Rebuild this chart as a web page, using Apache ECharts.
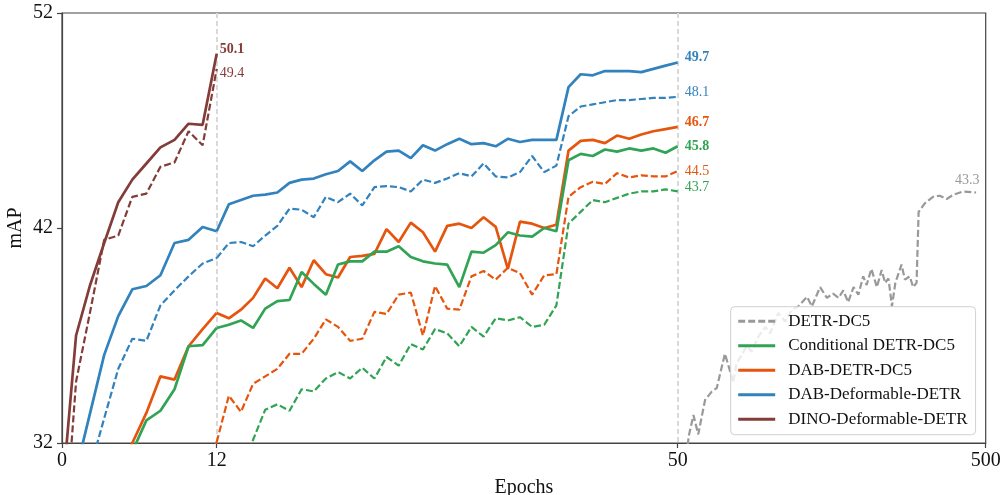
<!DOCTYPE html>
<html>
<head>
<meta charset="utf-8">
<script src="https://cdn.jsdelivr.net/npm/echarts@6/dist/echarts.min.js"></script>
<style>
  html, body { margin: 0; padding: 0; background: #fff; }
  #chart { width: 1003px; height: 495px; }
</style>
</head>
<body>
<div id="chart"></div>
<script>
  // x ticks: shown text vs. epoch value where the tick sits
  const xTickValues = [1, 12, 50, 500];
  const xTickLabels = ['0', '12', '50', '500'];

  // values per epoch 1..50 (null = not drawn)
  const dinoSolid  = [29.5, 37.0, 39.35, 41.3, 43.2, 44.25, 45.0, 45.75, 46.1, 46.85, 46.8, 50.1];
  const dinoDashed = [26.0, 34.85, 38.1, 41.45, 41.65, 43.45, 43.6, 44.85, 45.05, 46.5, 45.85, 49.4];

  const dabDefSolid = [28.0, 30.7, 33.4, 36.1, 37.9, 39.15, 39.3, 39.8, 41.3, 41.45, 42.05, 41.85,
    43.1, 43.3, 43.5, 43.55, 43.65, 44.1, 44.25, 44.3, 44.5, 44.65, 45.1, 44.65, 45.15, 45.55, 45.6, 45.25, 45.85, 45.6,
    45.9, 46.15, 45.9, 45.95, 45.8, 46.15, 46.0, 46.1, 46.1, 46.1,
    48.55, 49.15, 49.1, 49.3, 49.3, 49.3, 49.25, 49.4, 49.55, 49.7];
  const dabDefDashed = [26.0, 28.5, 30.8, 33.15, 35.45, 36.85, 36.75, 38.4, 39.1, 39.75, 40.35, 40.6,
    41.3, 41.35, 41.15, 41.65, 42.1, 42.9, 42.85, 42.5, 43.45, 43.2, 43.6, 43.05, 43.9, 43.95, 43.9, 43.7, 44.25, 44.1,
    44.3, 44.55, 44.4, 45.0, 44.4, 44.35, 44.6, 45.35, 44.6, 44.9,
    47.2, 47.65, 47.75, 47.85, 47.95, 47.95, 48.0, 48.05, 48.05, 48.1];

  const dabDetrSolid = [null, null, null, null, 30.5, 32.0, 33.4, 35.1, 34.95, 36.5, 37.3, 38.05,
    37.8, 38.2, 38.75, 39.65, 39.2, 40.15, 39.25, 40.5, 39.85, 39.7, 40.65, 40.7, 40.8, 41.95, 41.35, 42.25, 41.8, 40.9,
    42.1, 42.2, 42.0, 42.5, 42.05, 40.1, 42.3, 42.2, 42.0, 42.15,
    45.6, 46.05, 46.1, 45.95, 46.3, 46.15, 46.35, 46.5, 46.6, 46.7];
  const dabDetrDashed = [null, null, null, null, null, null, null, null, null, null, 30.6, 32.05,
    34.2, 33.45, 34.75, 35.1, 35.45, 36.15, 36.15, 36.85, 37.75, 37.4, 36.75, 36.85, 38.1, 38.0, 38.9, 39.0, 37.0, 39.3,
    38.25, 38.2, 39.75, 40.0, 39.6, 40.15, 39.9, 38.9, 39.8, 39.85,
    43.45, 43.9, 44.15, 44.05, 44.55, 44.35, 44.45, 44.4, 44.4, 44.65];

  const condSolid = [null, null, null, null, 30.0, 31.6, 33.05, 33.5, 34.5, 36.5, 36.55, 37.35,
    37.5, 37.7, 37.35, 38.25, 38.6, 38.65, 39.95, 39.4, 38.9, 40.3, 40.45, 40.45, 40.9, 40.9, 41.15, 40.65, 40.45, 40.35,
    40.3, 39.25, 40.9, 40.85, 41.2, 41.8, 41.65, 41.6, 42.0, 41.85,
    45.15, 45.45, 45.35, 45.65, 45.55, 45.7, 45.6, 45.7, 45.5, 45.8];
  const condDashed = [null, null, null, null, null, null, null, null, null, null, null, null,
    null, 30.8, 32.15, 33.55, 33.8, 33.5, 34.5, 34.4, 35.0, 35.3, 35.0, 35.5, 35.0, 36.0, 35.6, 36.6, 36.35, 37.3,
    37.1, 36.5, 37.4, 36.95, 37.8, 37.7, 37.85, 37.4, 37.5, 38.4,
    42.2, 42.75, 43.3, 43.2, 43.4, 43.6, 43.7, 43.7, 43.8, 43.7];

  // DETR-DC5, 500 epoch schedule
  const detrEpochs = [60, 66, 73, 80, 90, 100, 107, 119, 126, 131, 136, 151, 158, 168, 178, 185, 197, 207, 217, 226,
    239, 246, 258, 268, 277, 285, 292, 299, 307, 314, 321, 326, 333, 341, 348, 353, 358, 363, 368, 377,
    382, 389, 394, 399, 402, 411, 423, 433, 443, 453, 467, 486];
  const detrMap = [30.5, 32.3, 33.3, 32.4, 34.0, 34.4, 34.55, 36.15, 35.4, 34.8, 35.7, 36.5, 36.25, 36.95, 37.4, 37.1, 38.05, 37.65, 38.2, 38.35,
    38.8, 38.35, 39.25, 38.75, 38.95, 38.75, 39.1, 38.55, 39.25, 38.9, 39.75, 39.35, 40.1, 39.25, 40.05, 39.45, 39.65, 38.35, 39.45, 40.3,
    39.6, 39.75, 39.25, 39.45, 42.75, 43.15, 43.45, 43.5, 43.35, 43.55, 43.7, 43.65];

  const legendNames = ['DETR-DC5', 'Conditional DETR-DC5', 'DAB-DETR-DC5', 'DAB-Deformable-DETR', 'DINO-Deformable-DETR'];

  const COLORS = {
    detr: '#999999',
    cond: '#31a354',
    dabDetr: '#e6550d',
    dabDef: '#3182bd',
    dino: '#843c39'
  };
  const FONT = '"Liberation Serif", "DejaVu Serif", serif';
  const AXIS_COLOR = '#444';

  function pairs(vals, from, to) {
    const out = [];
    for (let e = from; e <= to; e++) {
      const v = vals[e - 1];
      if (v !== null && v !== undefined) out.push([e, v]);
    }
    return out;
  }

  function line(name, grid, data, color, dashed, label, offset, bold) {
    const s = {
      type: 'line',
      name: name,
      xAxisIndex: grid,
      yAxisIndex: grid,
      data: data,
      symbol: 'none',
      silent: true,
      z: dashed ? 2 : 3,
      itemStyle: { color: color },
      lineStyle: { color: color, width: dashed ? 2.2 : 2.7, type: dashed ? [7, 3] : 'solid' }
    };
    if (label) {
      s.endLabel = {
        show: true,
        formatter: label,
        color: color,
        fontFamily: FONT,
        fontSize: 14,
        fontWeight: bold ? 'bold' : 'normal',
        distance: 0,
        offset: offset
      };
    }
    return s;
  }

  const L = 62, T = 13, B = 443, X12 = 216.7, X50 = 677.7, R = 985.7;

  const chart = echarts.init(document.getElementById('chart'));

  const hiddenY = { type: 'value', min: 32, max: 52, show: false };
  const tickStyle = { show: true, length: 5, lineStyle: { color: AXIS_COLOR, width: 1.2 } };
  const lineStyleAxis = { show: true, lineStyle: { color: AXIS_COLOR, width: 1.2 } };
  const xLabel = {
    fontFamily: FONT, fontSize: 20, color: '#111', margin: 8,
    formatter: function (v) { return xTickLabels[xTickValues.indexOf(v)]; }
  };

  chart.setOption({
    animation: false,
    backgroundColor: '#fff',
    grid: [
      { left: L, top: T, width: X12 - L, height: B - T, outerBoundsMode: 'none' },
      { left: X12, top: T, width: X50 - X12, height: B - T, outerBoundsMode: 'none' },
      { left: X50, top: T, width: R - X50, height: B - T, outerBoundsMode: 'none' },
      { left: L, top: T, width: R - L, height: B - T, outerBoundsMode: 'none',
        show: true, borderColor: AXIS_COLOR, borderWidth: 1.2, backgroundColor: 'transparent' }
    ],
    xAxis: [
      { gridIndex: 0, type: 'value', min: 1, max: 12, interval: 11, axisLine: lineStyleAxis, axisTick: tickStyle,
        axisLabel: xLabel, splitLine: { show: false } },
      { gridIndex: 1, type: 'value', min: 12, max: 50, interval: 38, axisLine: lineStyleAxis, axisTick: tickStyle,
        axisLabel: Object.assign({ showMinLabel: false }, xLabel),
        splitLine: { show: true, lineStyle: { color: '#d9d9d9', width: 2, type: [5, 3] } } },
      { gridIndex: 2, type: 'value', min: 50, max: 500, interval: 450, axisLine: lineStyleAxis, axisTick: tickStyle,
        axisLabel: Object.assign({ showMinLabel: false }, xLabel), splitLine: { show: false } },
      { gridIndex: 3, type: 'value', min: 0, max: 1, axisLine: { show: false }, axisTick: { show: false },
        axisLabel: { show: false }, splitLine: { show: false },
        name: 'Epochs', nameLocation: 'middle', nameGap: 35,
        nameTextStyle: { fontFamily: FONT, fontSize: 20, color: '#111' } }
    ],
    yAxis: [
      { gridIndex: 0, type: 'value', min: 32, max: 52, interval: 10, axisLine: lineStyleAxis, axisTick: tickStyle,
        axisLabel: { fontFamily: FONT, fontSize: 20, color: '#111', margin: 9 }, splitLine: { show: false },
        name: 'mAP', nameLocation: 'middle', nameGap: 36,
        nameTextStyle: { fontFamily: FONT, fontSize: 20, color: '#111' } },
      Object.assign({ gridIndex: 1 }, hiddenY),
      Object.assign({ gridIndex: 2 }, hiddenY),
      { gridIndex: 3, type: 'value', min: 0, max: 1, show: false }
    ],
    legend: {
      data: legendNames,
      orient: 'vertical',
      left: 730.7,
      top: 306.7,
      padding: [6, 8, 7, 6],
      itemWidth: 37,
      itemHeight: 14,
      itemGap: 7.5,
      selectedMode: false,
      itemStyle: { opacity: 0 },
      lineStyle: { width: 3 },
      backgroundColor: 'rgba(255,255,255,0.8)',
      borderColor: '#d0d0d0',
      borderWidth: 1,
      borderRadius: 4,
      textStyle: { fontFamily: FONT, fontSize: 17, color: '#111', padding: [0, 0, 0, 8] }
    },
    series: [
      // 0..12 epochs
      line('DINO-Deformable-DETR', 0, pairs(dinoSolid, 1, 12), COLORS.dino, false, '50.1', [3, -4], true),
      line('DINO-Deformable-DETR (dashed)', 0, pairs(dinoDashed, 1, 12), COLORS.dino, true, '49.4', [3, 4], false),
      line('DAB-Deformable-DETR', 0, pairs(dabDefSolid, 1, 12), COLORS.dabDef, false),
      line('DAB-Deformable-DETR (dashed)', 0, pairs(dabDefDashed, 1, 12), COLORS.dabDef, true),
      line('DAB-DETR-DC5', 0, pairs(dabDetrSolid, 1, 12), COLORS.dabDetr, false),
      line('DAB-DETR-DC5 (dashed)', 0, pairs(dabDetrDashed, 1, 12), COLORS.dabDetr, true),
      line('Conditional DETR-DC5', 0, pairs(condSolid, 1, 12), COLORS.cond, false),
      // 12..50 epochs
      line('DAB-Deformable-DETR', 1, pairs(dabDefSolid, 12, 50), COLORS.dabDef, false, '49.7', [7, -5], true),
      line('DAB-Deformable-DETR (dashed)', 1, pairs(dabDefDashed, 12, 50), COLORS.dabDef, true, '48.1', [7, -5], false),
      line('DAB-DETR-DC5', 1, pairs(dabDetrSolid, 12, 50), COLORS.dabDetr, false, '46.7', [7, -5], true),
      line('DAB-DETR-DC5 (dashed)', 1, pairs(dabDetrDashed, 12, 50), COLORS.dabDetr, true, '44.5', [7, 0], false),
      line('Conditional DETR-DC5', 1, pairs(condSolid, 12, 50), COLORS.cond, false, '45.8', [7, 0], true),
      line('Conditional DETR-DC5 (dashed)', 1, pairs(condDashed, 12, 50), COLORS.cond, true, '43.7', [7, -4], false),
      // 50..500 epochs
      line('DETR-DC5', 2, detrEpochs.map(function (e, i) { return [e, detrMap[i]]; }), COLORS.detr, true, '43.3', [-21, -12], false)
    ]
  });
</script>
</body>
</html>
